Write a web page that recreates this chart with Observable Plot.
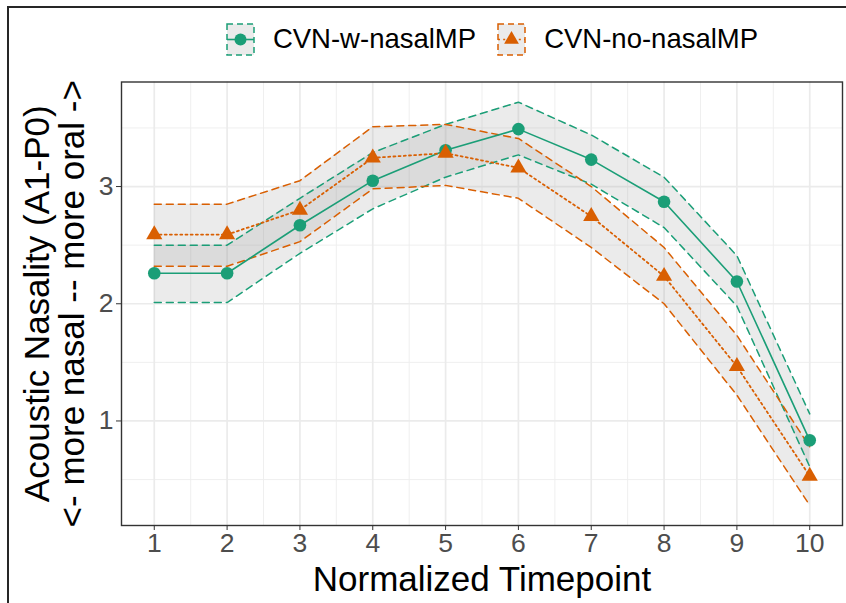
<!DOCTYPE html>
<html>
<head>
<meta charset="utf-8">
<script src="https://cdn.jsdelivr.net/npm/d3@7"></script>
<script src="https://cdn.jsdelivr.net/npm/@observablehq/plot@0.6"></script>
<style>
  html, body { margin: 0; padding: 0; background: #fff; }
  body { width: 846px; height: 603px; overflow: hidden; position: relative; font-family: "Liberation Sans", Arial, sans-serif; }
  #frame { position: absolute; left: 7px; top: 6px; width: 2000px; height: 2000px; border: 2px solid #262626; box-sizing: border-box; pointer-events: none; }
  #legend { position: relative; height: 62px; display: flex; align-items: center; justify-content: center; padding-left: 138px; padding-top: 16px; box-sizing: border-box; }
  .item { display: flex; align-items: center; }
  .item svg { display: block; }
  .lab { font-size: 27.5px; color: #000; margin-left: 18px; white-space: nowrap; }
  #chart { position: relative; }
</style>
</head>
<body>
<div id="frame"></div>
<div id="legend"></div>
<div id="chart"></div>
<script>
// ---- data ----
const timepoints = [1, 2, 3, 4, 5, 6, 7, 8, 9, 10];

const wMean  = [2.26, 2.26, 2.67, 3.05, 3.31, 3.49, 3.23, 2.87, 2.19, 0.835];
const wLower = [2.01, 2.01, 2.43, 2.81, 3.08, 3.27, 3.02, 2.65, 1.98, 0.61];
const wUpper = [2.50, 2.50, 2.90, 3.29, 3.53, 3.72, 3.44, 3.08, 2.41, 1.06];

const oMean  = [2.59, 2.59, 2.80, 3.245, 3.285, 3.16, 2.745, 2.235, 1.465, 0.53];
const oLower = [2.32, 2.32, 2.53, 2.98, 3.01, 2.90, 2.48, 2.00, 1.22, 0.28];
const oUpper = [2.85, 2.85, 3.05, 3.51, 3.53, 3.41, 3.00, 2.48, 1.73, 0.78];

const seriesNames = ["CVN-w-nasalMP", "CVN-no-nasalMP"];
const xTicks = [1, 2, 3, 4, 5, 6, 7, 8, 9, 10];
const yTicks = [1, 2, 3];
const xTitle = "Normalized Timepoint";
const yTitle = "Acoustic Nasality (A1-P0)\n<- more nasal -- more oral ->";

// ---- styling ----
const GREEN = "#1b9e77", ORANGE = "#d95f02";
const RIBBON = "#999999", RIBBON_OP = 0.2;

const wData = timepoints.map((t, i) => ({t, mean: wMean[i], lo: wLower[i], hi: wUpper[i]}));
const oData = timepoints.map((t, i) => ({t, mean: oMean[i], lo: oLower[i], hi: oUpper[i]}));

const [ymin, ymax] = d3.extent([...wLower, ...wUpper, ...oLower, ...oUpper]);
const ypad = (ymax - ymin) * 0.05;
const [xmin, xmax] = d3.extent(timepoints);
const xpad = (xmax - xmin) * 0.05;

const mid = a => a.slice(0, -1).map((v, i) => (v + a[i + 1]) / 2);
const xMinor = mid(xTicks);
const yMinor = [yTicks[0] - 0.5, ...mid(yTicks), yTicks[yTicks.length - 1] + 0.5];

const dashed = "7,5";
const dotted = "2,3.2";

const chart = Plot.plot({
  width: 846,
  height: 541,
  marginTop: 19.5,
  marginBottom: 78,
  marginLeft: 121,
  marginRight: 4,
  style: {fontFamily: "'Liberation Sans', Arial, sans-serif", background: "transparent", overflow: "visible"},
  x: {domain: [xmin - xpad, xmax + xpad]},
  y: {domain: [ymin - ypad, ymax + ypad]},
  marks: [
    Plot.gridX(xMinor, {stroke: "#ededed", strokeOpacity: 1, strokeWidth: 0.9}),
    Plot.gridY(yMinor.filter(v => v > ymin - ypad && v < ymax + ypad), {stroke: "#ededed", strokeOpacity: 1, strokeWidth: 0.9}),
    Plot.gridX(xTicks, {stroke: "#ebebeb", strokeOpacity: 1, strokeWidth: 1.7}),
    Plot.gridY(yTicks, {stroke: "#ebebeb", strokeOpacity: 1, strokeWidth: 1.7}),

    Plot.areaY(wData, {x: "t", y1: "lo", y2: "hi", fill: RIBBON, fillOpacity: RIBBON_OP}),
    Plot.areaY(oData, {x: "t", y1: "lo", y2: "hi", fill: RIBBON, fillOpacity: RIBBON_OP}),

    Plot.line(wData, {x: "t", y: "lo", stroke: GREEN, strokeWidth: 1.5, strokeDasharray: dashed}),
    Plot.line(wData, {x: "t", y: "hi", stroke: GREEN, strokeWidth: 1.5, strokeDasharray: dashed}),
    Plot.line(oData, {x: "t", y: "lo", stroke: ORANGE, strokeWidth: 1.5, strokeDasharray: dashed}),
    Plot.line(oData, {x: "t", y: "hi", stroke: ORANGE, strokeWidth: 1.5, strokeDasharray: dashed}),

    Plot.line(wData, {x: "t", y: "mean", stroke: GREEN, strokeWidth: 1.6}),
    Plot.line(oData, {x: "t", y: "mean", stroke: ORANGE, strokeWidth: 1.8, strokeDasharray: dotted}),

    Plot.dot(wData, {x: "t", y: "mean", fill: GREEN, r: 6.3, symbol: "circle"}),
    Plot.dot(oData, {x: "t", y: "mean", fill: ORANGE, r: 6, symbol: "triangle"}),

    Plot.frame({stroke: "#333333", strokeWidth: 1.4}),

    Plot.axisX(xTicks, {tickSize: 5, tickPadding: 3, fontSize: 26.5, stroke: "#333333", fill: "#4d4d4d", label: null, tickFormat: d => String(d)}),
    Plot.axisY(yTicks, {tickSize: 5, tickPadding: 3, fontSize: 26.5, stroke: "#333333", fill: "#4d4d4d", label: null, tickFormat: d => String(d)}),

    Plot.text([xTitle], {frameAnchor: "bottom", dy: 54, fontSize: 35, fill: "#000", textAnchor: "middle", lineAnchor: "middle"}),
    Plot.text([yTitle], {frameAnchor: "left", dx: -66, fontSize: 35, fill: "#000", rotate: -90, textAnchor: "middle", lineAnchor: "middle", lineHeight: 1.0})
  ]
});
document.getElementById("chart").appendChild(chart);

// ---- legend (HTML above the svg) ----
const legend = d3.select("#legend");
const keys = [
  {name: seriesNames[0], color: GREEN, sym: d3.symbolCircle, size: Math.PI * 36, lineDash: null},
  {name: seriesNames[1], color: ORANGE, sym: d3.symbolTriangle, size: Math.PI * 30, lineDash: dotted}
];
keys.forEach((k, i) => {
  const item = legend.append("div").attr("class", "item");
  const w = 27, h = 31;
  const svg = item.append("svg").attr("width", w + 2).attr("height", h + 2);
  svg.append("rect").attr("x", 1).attr("y", 1).attr("width", w).attr("height", h)
    .attr("fill", RIBBON).attr("fill-opacity", RIBBON_OP).attr("stroke", "none");
  svg.append("rect").attr("x", 1).attr("y", 1).attr("width", w).attr("height", h)
    .attr("fill", "none").attr("stroke", k.color).attr("stroke-width", 1.5).attr("stroke-dasharray", "6,4");
  svg.append("line").attr("x1", 1).attr("x2", w + 1).attr("y1", h / 2 + 1).attr("y2", h / 2 + 1)
    .attr("stroke", k.color).attr("stroke-width", 1.6).attr("stroke-dasharray", k.lineDash);
  svg.append("path").attr("d", d3.symbol(k.sym, k.size)()).attr("transform", `translate(${w / 2 + 1},${h / 2 + 1})`)
    .attr("fill", k.color);
  item.append("span").attr("class", "lab").style("margin-right", i === keys.length - 1 ? "0px" : "21px").text(k.name);
});
</script>
</body>
</html>
